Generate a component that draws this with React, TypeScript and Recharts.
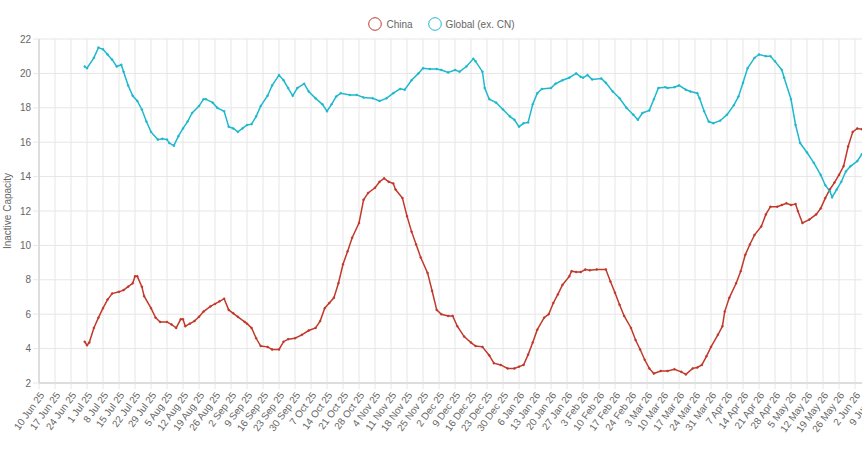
import { LineChart, Line, XAxis, YAxis, CartesianGrid, Legend } from "recharts";

// days counted from 10 Jun 25
const chinaDays = [
  20, 21, 22, 24, 26, 28, 30, 32, 35, 37, 39, 41, 42, 43, 45, 46, 49, 51, 53, 56, 58, 60, 62, 63, 64, 66, 68, 70,
  72, 75, 77, 79, 81, 83, 85, 87, 90, 91, 93, 95, 97, 100, 102, 105, 107, 109, 112, 115, 118, 121, 123, 125, 127,
  129, 131, 133, 135, 137, 140, 142, 144, 147, 149, 151, 153, 155, 156, 159, 161, 163, 165, 167, 170, 172, 174,
  176, 179, 181, 183, 186, 189, 191, 194, 197, 199, 202, 205, 208, 210, 212, 214, 216, 218, 221, 223, 225, 227,
  229, 232, 233, 235, 237, 239, 241, 244, 248, 250, 252, 254, 256, 259, 261, 263, 265, 267, 269, 272, 275, 278,
  281, 283, 286, 288, 290, 292, 294, 297, 299, 300, 302, 305, 307, 309, 311, 313, 316, 318, 320, 323, 325, 327,
  329, 331, 332, 334, 337, 340, 342, 344, 346, 348, 350, 352, 354, 356, 358, 360,
];
const chinaValues = [
  4.4, 4.2, 4.35, 5.2, 5.8, 6.35, 6.85, 7.2, 7.3, 7.4, 7.6, 7.8, 8.2, 8.2, 7.6, 7.05, 6.35, 5.8, 5.55, 5.55, 5.4,
  5.2, 5.7, 5.7, 5.3, 5.45, 5.6, 5.85, 6.15, 6.45, 6.6, 6.75, 6.9, 6.25, 6.05, 5.85, 5.55, 5.45, 5.2, 4.6, 4.15,
  4.1, 3.95, 3.95, 4.4, 4.55, 4.6, 4.8, 5.05, 5.2, 5.6, 6.35, 6.65, 6.95, 7.8, 8.9, 9.65, 10.45, 11.3, 12.65,
  13.05, 13.35, 13.7, 13.9, 13.7, 13.6, 13.25, 12.75, 11.7, 10.8, 10.05, 9.3, 8.4, 7.35, 6.25, 6.0, 5.9, 5.9, 5.3,
  4.7, 4.35, 4.15, 4.1, 3.6, 3.15, 3.05, 2.85, 2.85, 2.95, 3.05, 3.65, 4.35, 5.1, 5.8, 6.0, 6.65, 7.15, 7.7, 8.2,
  8.5, 8.45, 8.45, 8.6, 8.55, 8.6, 8.6, 7.9, 7.25, 6.55, 5.9, 5.2, 4.5, 3.95, 3.35, 2.85, 2.55, 2.7, 2.7, 2.8,
  2.65, 2.5, 2.85, 2.9, 3.05, 3.55, 4.1, 4.8, 5.3, 6.15, 6.95, 7.8, 8.5, 9.45, 10.05, 10.6, 11.1, 11.8, 12.25,
  12.25, 12.35, 12.45, 12.35, 12.4, 12.0, 11.3, 11.5, 11.8, 12.15, 12.75, 13.25, 13.65, 14.1, 14.6, 15.75, 16.6,
  16.8, 16.75,
];

const globalDays = [
  20, 21, 24, 26, 28, 30, 32, 34, 36, 37, 39, 41, 43, 45, 47, 49, 52, 54, 56, 57, 59, 61, 63, 65, 67, 70, 72, 73,
  76, 78, 81, 83, 85, 87, 89, 91, 93, 95, 97, 100, 102, 105, 107, 109, 111, 113, 116, 118, 121, 124, 126, 128,
  130, 132, 136, 139, 142, 146, 149, 152, 155, 158, 160, 163, 166, 168, 171, 174, 176, 179, 182, 184, 187, 190,
  191, 194, 195, 197, 200, 203, 206, 208, 210, 212, 214, 216, 218, 220, 224, 226, 229, 232, 235, 237, 238, 240,
  242, 246, 248, 251, 254, 257, 260, 262, 264, 267, 269, 271, 274, 275, 278, 280, 283, 285, 288, 289, 291, 293,
  295, 298, 301, 304, 306, 308, 310, 313, 315, 318, 320, 322, 325, 326, 329, 331, 333, 336, 339, 342, 344, 346,
  347, 349, 351, 353, 355, 358, 360,
];
const globalValues = [
  20.4, 20.3, 20.9, 21.5, 21.4, 21.1, 20.8, 20.4, 20.5, 20.1, 19.3, 18.7, 18.4, 17.9, 17.2, 16.6, 16.15, 16.2,
  16.15, 15.95, 15.8, 16.35, 16.8, 17.2, 17.7, 18.1, 18.5, 18.5, 18.3, 18.0, 17.8, 16.9, 16.8, 16.6, 16.8, 17.0,
  17.05, 17.5, 18.1, 18.7, 19.3, 19.9, 19.6, 19.15, 18.7, 19.15, 19.4, 18.95, 18.55, 18.2, 17.8, 18.2, 18.65,
  18.85, 18.75, 18.75, 18.6, 18.55, 18.4, 18.55, 18.85, 19.1, 19.05, 19.6, 20.0, 20.3, 20.25, 20.25, 20.2, 20.05,
  20.2, 20.1, 20.4, 20.85, 20.7, 20.1, 19.15, 18.5, 18.3, 17.9, 17.5, 17.3, 16.9, 17.1, 17.15, 18.2, 18.85, 19.1,
  19.15, 19.4, 19.6, 19.75, 20.0, 19.8, 19.75, 19.9, 19.65, 19.7, 19.45, 18.95, 18.55, 18.0, 17.6, 17.3, 17.7,
  17.85, 18.5, 19.15, 19.2, 19.15, 19.2, 19.3, 19.05, 18.95, 18.85, 18.55, 17.8, 17.2, 17.1, 17.25, 17.6, 18.15,
  18.65, 19.45, 20.3, 20.9, 21.1, 21.0, 21.0, 20.7, 20.2, 19.75, 18.5, 17.0, 15.95, 15.4, 14.8, 14.1, 13.5, 13.15,
  12.8, 13.25, 13.7, 14.3, 14.6, 14.9, 15.3,
];

const weekLabels = [
  "10 Jun 25", "17 Jun 25", "24 Jun 25", "1 Jul 25", "8 Jul 25", "15 Jul 25", "22 Jul 25", "29 Jul 25",
  "5 Aug 25", "12 Aug 25", "19 Aug 25", "26 Aug 25", "2 Sep 25", "9 Sep 25", "16 Sep 25", "23 Sep 25",
  "30 Sep 25", "7 Oct 25", "14 Oct 25", "21 Oct 25", "28 Oct 25", "4 Nov 25", "11 Nov 25", "18 Nov 25",
  "25 Nov 25", "2 Dec 25", "9 Dec 25", "16 Dec 25", "23 Dec 25", "30 Dec 25", "6 Jan 26", "13 Jan 26",
  "20 Jan 26", "27 Jan 26", "3 Feb 26", "10 Feb 26", "17 Feb 26", "24 Feb 26", "3 Mar 26", "10 Mar 26",
  "17 Mar 26", "24 Mar 26", "31 Mar 26", "7 Apr 26", "14 Apr 26", "21 Apr 26", "28 Apr 26", "5 May 26",
  "12 May 26", "19 May 26", "26 May 26", "2 Jun 26", "9 Jun 26",
];

const yTicks = [2, 4, 6, 8, 10, 12, 14, 16, 18, 20, 22];

const chinaData = chinaDays.map((d, i) => ({ day: d, value: chinaValues[i] }));
const globalData = globalDays.map((d, i) => ({ day: d, value: globalValues[i] }));
const xTicks = weekLabels.map((_, i) => i * 7);

const RED = "#c0392b";
const CYAN = "#1fb8cd";
const FONT = "'Liberation Sans', Arial, sans-serif";

const legendItems = [
  { name: "China", color: RED },
  { name: "Global (ex. CN)", color: CYAN },
];

const ChartLegend = () => (
  <div
    style={{
      display: "flex",
      justifyContent: "center",
      height: 25,
      paddingTop: 3,
      paddingLeft: 12,
      boxSizing: "border-box",
    }}
  >
    {legendItems.map((item, i) => (
      <div key={item.name} style={{ display: "flex", alignItems: "center", marginLeft: i ? 15 : 0, height: 14 }}>
        <svg width={14} height={14} style={{ marginRight: 4 }}>
          <circle cx={7} cy={7} r={6.3} fill="#fff" stroke={item.color} strokeWidth={1} />
        </svg>
        <span style={{ fontSize: 10, color: "#666", fontFamily: FONT }}>{item.name}</span>
      </div>
    ))}
  </div>
);

export default function App() {
  return (
    <div style={{ position: "fixed", left: 0, top: 0, width: 862, height: 455, overflow: "hidden", background: "#fff" }}>
      <LineChart width={882} height={455} margin={{ top: 14, right: 11, bottom: 0, left: 0 }}>
        <CartesianGrid stroke="#e6e6e6" verticalValues={xTicks} />
        <XAxis
          dataKey="day"
          type="number"
          domain={[0, 364]}
          ticks={xTicks}
          interval={0}
          allowDuplicatedCategory={false}
          tickFormatter={(v: number) => weekLabels[Math.round(v / 7)]}
          angle={-54}
          textAnchor="end"
          height={72}
          tickSize={6}
          tickMargin={2}
          stroke="#c8c8c8"
          tickLine={{ stroke: "#e6e6e6" }}
          tick={{ fill: "#666", fontSize: 10, fontFamily: FONT }}
        />
        <YAxis
          type="number"
          domain={[2, 22]}
          ticks={yTicks}
          width={39}
          tickSize={6}
          tickMargin={2}
          stroke="#c8c8c8"
          tickLine={{ stroke: "#e6e6e6" }}
          tick={{ fill: "#666", fontSize: 10, fontFamily: FONT }}
          label={{
            value: "Inactive Capacity",
            angle: -90,
            position: "center",
            dx: -12.5,
            style: { fill: "#666", fontSize: 10, fontFamily: FONT },
          }}
        />
        <Legend verticalAlign="top" content={<ChartLegend />} />
        <Line
          data={chinaData}
          dataKey="value"
          name="China"
          type="linear"
          stroke={RED}
          strokeWidth={1.5}
          dot={{ r: 1, fill: RED, stroke: RED, strokeWidth: 0.5 }}
          activeDot={false}
          isAnimationActive={false}
        />
        <Line
          data={globalData}
          dataKey="value"
          name="Global (ex. CN)"
          type="linear"
          stroke={CYAN}
          strokeWidth={1.5}
          dot={{ r: 1, fill: CYAN, stroke: CYAN, strokeWidth: 0.5 }}
          activeDot={false}
          isAnimationActive={false}
        />
      </LineChart>
    </div>
  );
}
